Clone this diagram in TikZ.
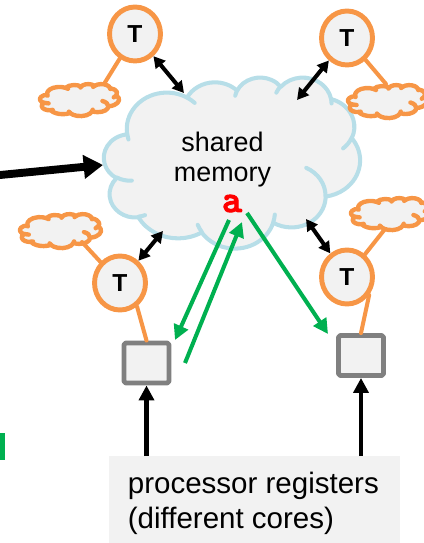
\documentclass[tikz,border=0pt]{standalone}
\usepackage{fontspec}
\setmainfont{Liberation Sans}
\newfontfamily\codefont[FakeBold=2.5]{lmmonolt10-bold.otf}
\usetikzlibrary{arrows.meta,shapes.geometric}

\definecolor{cloudfill}{HTML}{F2F2F2}
\definecolor{cloudline}{HTML}{B7DEE8}
\definecolor{threadcol}{HTML}{F79646}
\definecolor{flowcol}{HTML}{00B050}
\definecolor{regline}{HTML}{808080}

% Cloud outline built from elliptical arcs (visual start angle, sweep),
% frame 43.2 x 43.2 units, y pointing down.
\newcommand\cloudOutline{}
\newcommand\cloudCurls{}
\newcommand\addCloudArc[5]{%
  \pgfmathsetmacro\cloudTa{atan2((#2)*sin(#4),(#3)*cos(#4))}%
  \pgfmathsetmacro\cloudTb{atan2((#2)*sin((#4)+(#5)),(#3)*cos((#4)+(#5)))}%
  \pgfmathsetmacro\cloudTd{mod(\cloudTb-\cloudTa+720,360)}%
  \xdef#1{#1 arc[start angle=\cloudTa, delta angle=\cloudTd, x radius=#2, y radius=#3]}%
}
\newcommand\addCurl[6]{%
  \xdef\cloudCurls{\cloudCurls (#1,#2)}%
  \addCloudArc\cloudCurls{#3}{#4}{#5}{#6}%
}
\gdef\cloudOutline{(3.900,14.370)}
\addCloudArc\cloudOutline{6.753}{9.190}{-190.4875}{123.7805}
\addCloudArc\cloudOutline{5.333}{7.267}{-144.1024}{89.9452}
\addCloudArc\cloudOutline{4.365}{5.945}{-145.8079}{99.7230}
\addCloudArc\cloudOutline{4.857}{6.595}{-130.9861}{117.2417}
\addCloudArc\cloudOutline{5.333}{7.273}{-78.7089}{109.0269}
\addCloudArc\cloudOutline{6.775}{9.220}{-46.2673}{130.2690}
\addCloudArc\cloudOutline{5.785}{7.867}{0.6250}{114.0333}
\addCloudArc\cloudOutline{6.752}{9.215}{22.4516}{115.1726}
\addCloudArc\cloudOutline{7.720}{10.543}{66.2426}{75.7110}
\addCloudArc\cloudOutline{4.360}{5.918}{-274.9421}{146.7356}
\addCloudArc\cloudOutline{4.345}{5.945}{-246.8285}{152.5189}
\xdef\cloudOutline{\cloudOutline -- cycle}
\addCurl{4.693}{26.177}{4.345}{5.945}{86.7420}{26.4295}
\addCurl{6.928}{34.899}{4.360}{5.918}{73.6105}{11.4475}
\addCurl{16.478}{39.090}{6.752}{9.215}{137.6242}{14.0811}
\addCurl{28.827}{34.751}{6.752}{9.215}{6.4533}{15.9984}
\addCurl{34.129}{22.954}{5.785}{7.867}{-70.2924}{70.9174}
\addCurl{41.798}{15.354}{5.333}{7.273}{30.3180}{27.7515}
\addCurl{38.324}{5.426}{4.857}{6.595}{-13.7443}{14.8589}
\addCurl{29.078}{3.952}{4.857}{6.595}{-149.1815}{18.1954}
\addCurl{22.141}{4.720}{4.365}{5.945}{-163.4943}{17.6864}
\addCurl{14.000}{5.192}{6.753}{9.190}{-66.7070}{12.3194}
\addCurl{4.127}{15.789}{6.753}{9.190}{157.6544}{11.8582}

% cloud in the frame with top-left corner (#1,#2), width #3, height #4
\newcommand\drawcloud[5]{%
  \begin{scope}[shift={(#1,#2)},xscale=#3/43.2,yscale=#4/43.2]
    \path[#5] \cloudOutline;
    \path[#5,fill=none] \cloudCurls;
  \end{scope}}

\begin{document}
\begin{tikzpicture}[x=0.02cm,y=-0.02cm,
  line cap=round,line join=round,
  memcloud/.style={draw=cloudline,fill=cloudfill,line width=2.3pt},
  threadcloud/.style={draw=threadcol,fill=cloudfill,line width=2.5pt},
  thread/.style={ellipse,draw=threadcol,fill=cloudfill,line width=2.8pt,
    minimum width=1.02cm,minimum height=1.08cm,inner sep=0pt,
    font=\bfseries\fontsize{14}{14}\selectfont},
  register/.style={rectangle,draw=regline,fill=cloudfill,line width=2.8pt,
    minimum width=0.9cm,minimum height=0.8cm,inner sep=0pt,rounded corners=1pt},
  tie/.style={draw=threadcol,line width=2.3pt},
  link/.style={draw=black,line width=2.3pt,line cap=butt,
    {Triangle[length=6.5pt,width=7pt]}-{Triangle[length=6.5pt,width=7pt]}},
  flow/.style={draw=flowcol,line width=2.3pt,line cap=butt,
    -{Triangle[length=8.5pt,width=8.5pt]}},
  feed/.style={draw=black,line width=2.3pt,line cap=butt,
    -{Triangle[length=8.5pt,width=8.5pt]}},
  bigfeed/.style={draw=black,line width=4.5pt,line cap=butt,
    -{Triangle[length=11pt,width=13pt]}},
  label/.style={font=\fontsize{16.8}{19}\selectfont,anchor=base west,inner sep=0pt},
  memtext/.style={font=\fontsize{15.3}{17}\selectfont,anchor=base,inner sep=0pt}]
\useasboundingbox (0,0) rectangle (423,543);

% shared memory
\drawcloud{104}{77}{256}{171}{memcloud}
\node[memtext] (mem1) at (222.5,151.7) {shared};
\node[memtext] (mem2) at (222.5,181.7) {memory};
\node[font=\codefont\fontsize{22}{22}\selectfont,text=red,anchor=base,inner sep=0pt,
  text height=0.45em,text depth=0pt]
  (va) at (232,212) {a};

% private storage of each thread
\drawcloud{40}{84}{79}{32}{threadcloud}
\drawcloud{348}{85}{79}{33}{threadcloud}
\drawcloud{20}{214}{81}{34}{threadcloud}
\drawcloud{351}{198}{79}{32}{threadcloud}
\coordinate (sA) at (104,84);
\coordinate (sB) at (386,84);
\coordinate (sC) at (82,242);
\coordinate (sD) at (385,229);

% threads
\node[thread] (tA) at (135,34) {T};
\node[thread] (tB) at (347,38) {T};
\node[thread] (tC) at (120,283) {T};
\node[thread] (tD) at (347,277) {T};

% registers
\node[register] (rC) at (146.5,363) {};
\node[register] (rD) at (361,355.5) {};

% label
\node[fill=cloudfill,anchor=north west,minimum width=5.82cm,minimum height=1.8cm,inner sep=0pt]
  (lbl) at (109,456) {};
\node[label] (lab1) at (127.5,493.3) {processor registers};
\node[label] (lab2) at (127.5,528) {(different cores)};

% thread ties
\draw[tie] (tA) -- (sA);
\draw[tie] (tB) -- (sB);
\draw[tie] (tC) -- (sC);
\draw[tie] (tD) -- (sD);
\draw[tie] (tC.-54) -- (rC.north);
\draw[tie] (tD.-39) -- (rD.north);

% memory access
\coordinate (mA) at (184,93);
\coordinate (mB) at (297,100);
\coordinate (mC) at (163,231);
\coordinate (mD) at (306,219);
\draw[link] (tA) -- (mA);
\draw[link] (tB) -- (mB);
\draw[link] (tC) -- (mC);
\draw[link] (tD) -- (mD);

% incoming arrow
\coordinate (inL) at (-5,175.5);
\coordinate (mL) at (103,165);
\draw[bigfeed] (inL) -- (mL);

% loads and stores of a
\coordinate (a1) at (229,220);
\coordinate (a2) at (242,222);
\coordinate (a3) at (247,213);
\coordinate (e1) at (175,340);
\coordinate (e2) at (185,363);
\coordinate (e3) at (328,334);
\draw[flow] (a1) -- (e1);
\draw[flow] (e2) -- (a2);
\draw[flow] (a3) -- (e3);

% label arrows
\draw[feed] (lbl.north -| rC.south) -- (rC.south);
\draw[feed] (lbl.north -| rD.south) -- (rD.south);

% edge mark
\fill[flowcol] (0,433) rectangle (5,460);
\end{tikzpicture}
\end{document}
